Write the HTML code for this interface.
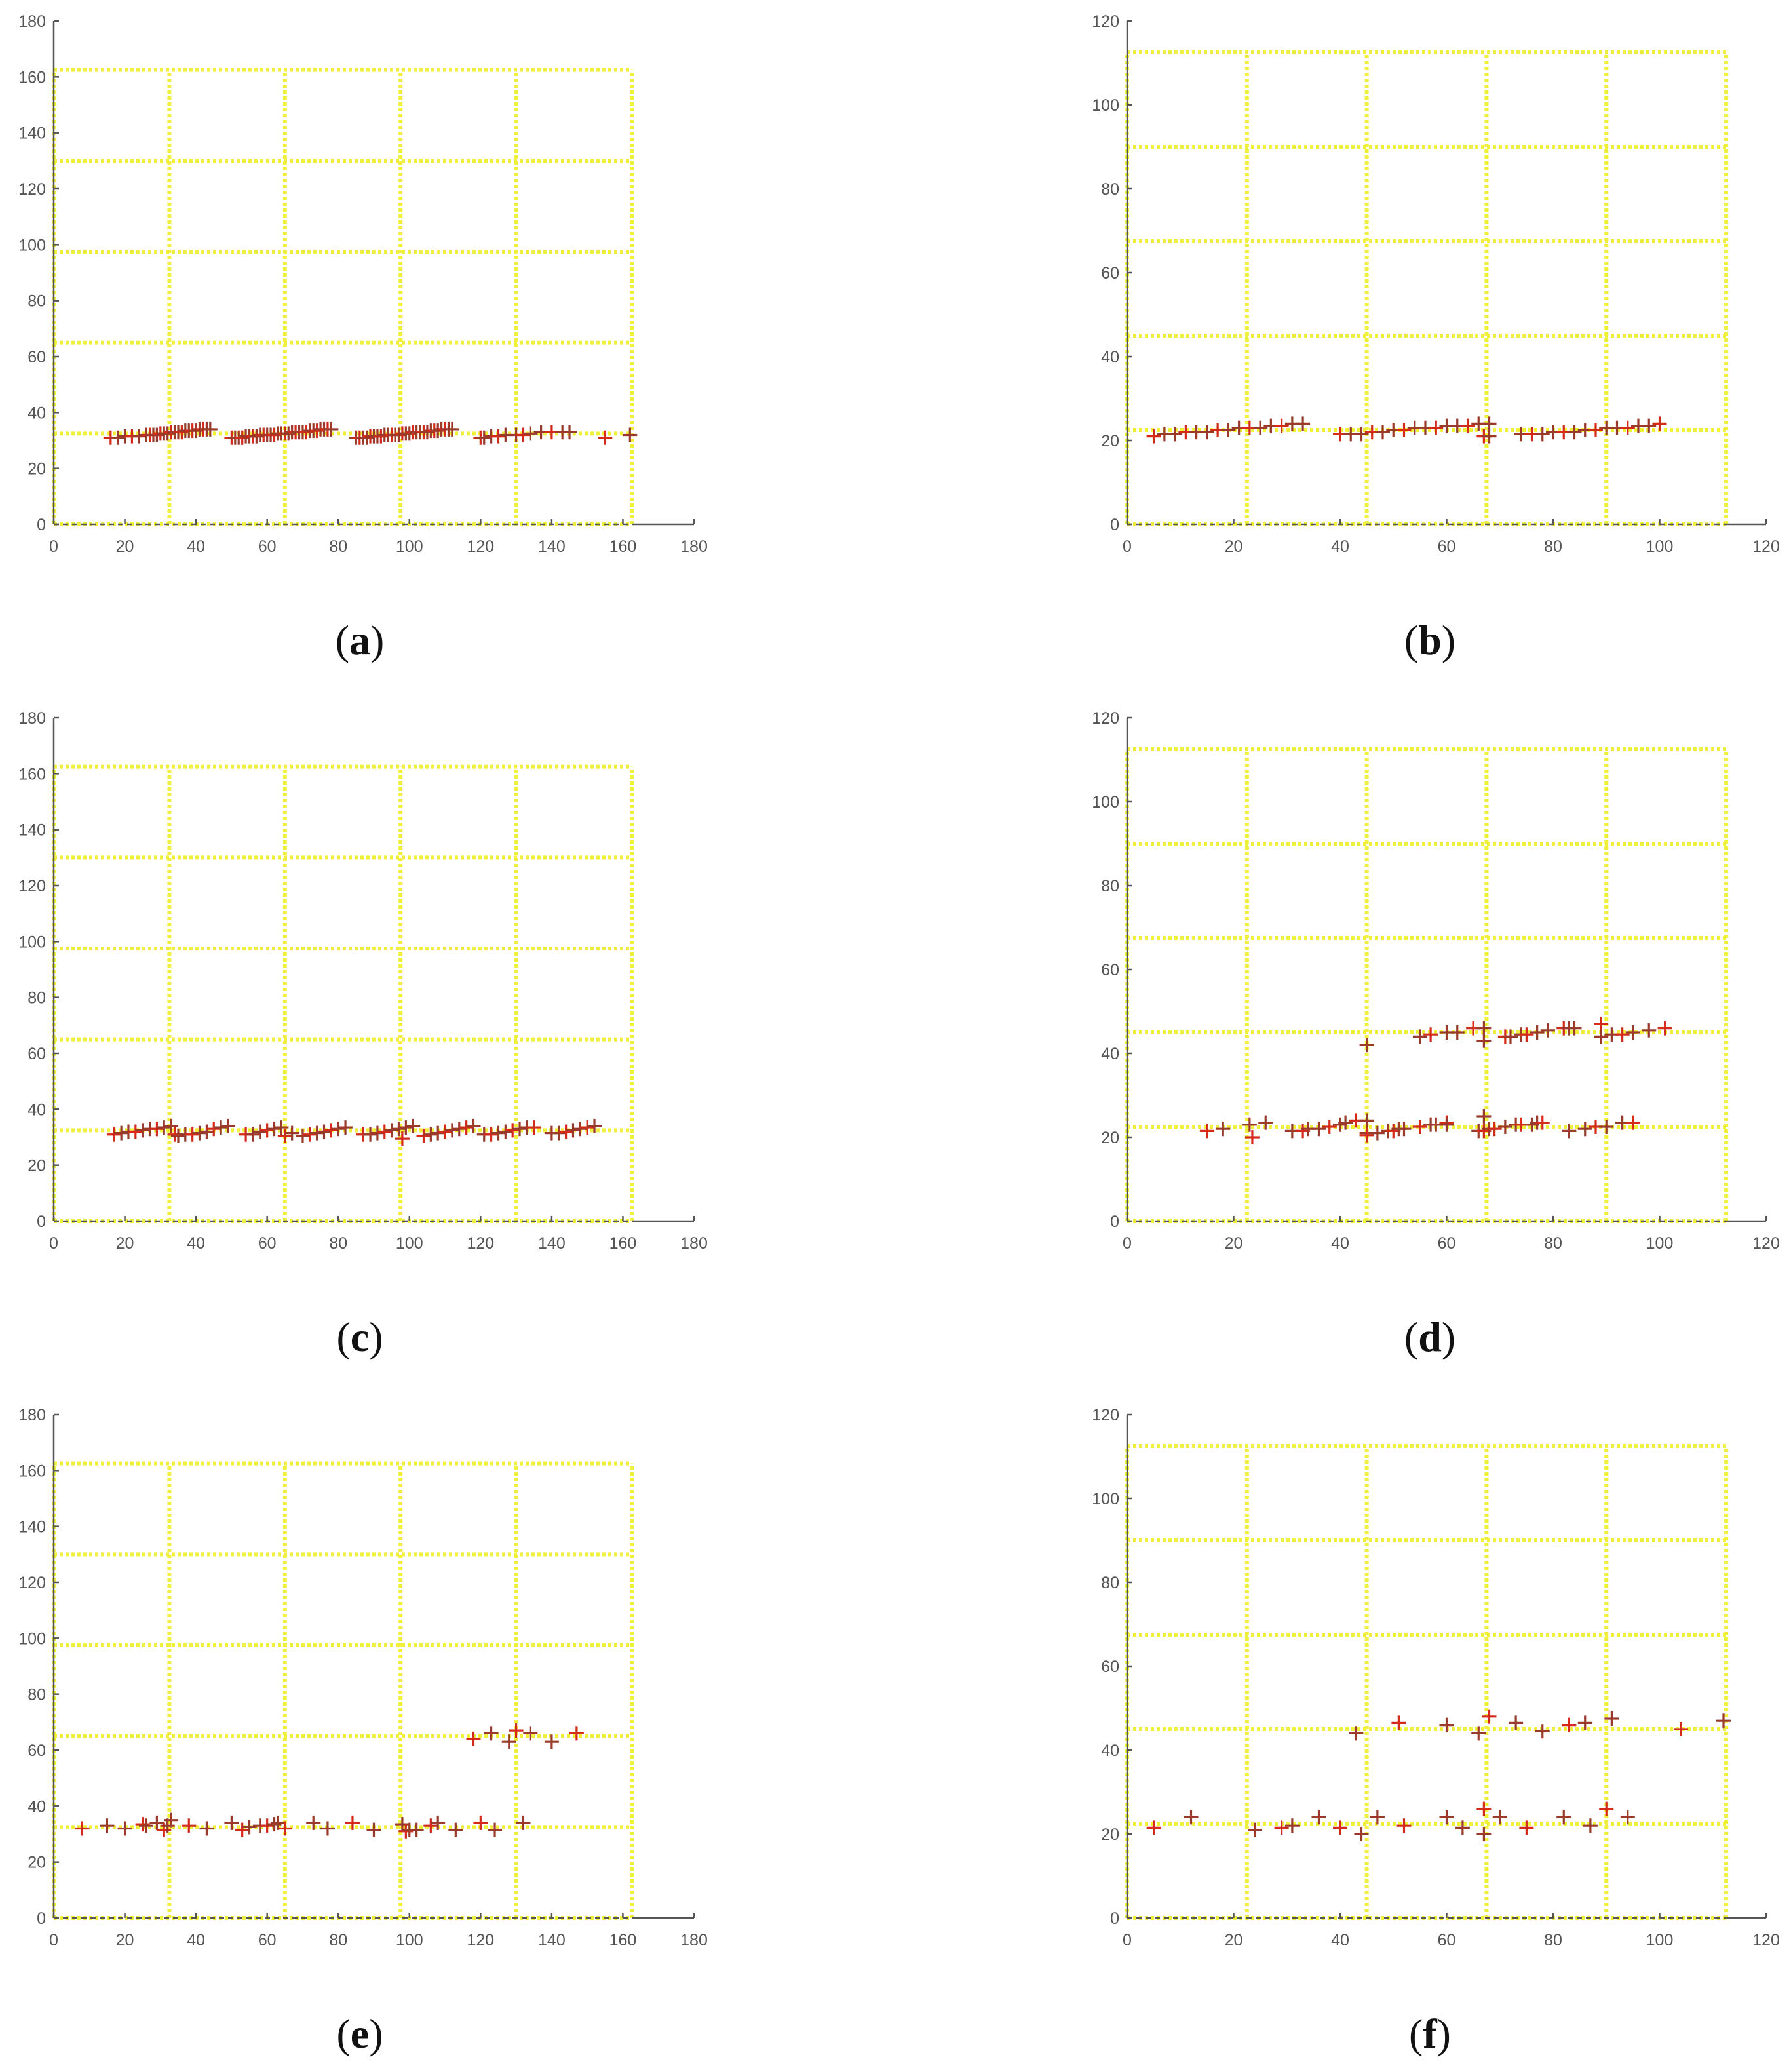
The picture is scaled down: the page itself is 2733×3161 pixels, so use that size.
<!DOCTYPE html>
<html><head><meta charset="utf-8"><style>
html,body{margin:0;padding:0;background:#fff;}
svg{display:block;}
.tk{font-family:"Liberation Sans",sans-serif;font-size:25px;fill:#555;}
.cap{font-family:"Liberation Serif",serif;font-size:64px;fill:#111;}
</style></head><body>
<svg id="fig" width="2733" height="3161" viewBox="0 0 2733 3161" xmlns="http://www.w3.org/2000/svg"></svg>
<script>
// Panel (a)
const aX=[16,18,20,22,24,26,27,28,29,30,31,32,33,34,35,36,37,38,39,40,41,42,43,44, 50,51,52,53,54,55,56,57,58,59,60,61,62,63,64,65,66,67,68,69,70,71,72,73,74,75,76,77,78, 85,86,87,88,89,90,91,92,93,94,95,96,97,98,99,100,101,102,103,104,105,106,107,108,109,110,111,112, 120,121,123,125,127,130,132,134,137,140,143,145,155,162];
const aY=[31,31,31.5,31.5,31.5,32,32,32,32,32.5,32.5,32.5,33,33,33,33,33.5,33.5,33.5,33.5,34,34,34,34, 31,31,31,31,31.5,31.5,31.5,31.5,32,32,32,32,32,32.5,32.5,32.5,32.5,33,33,33,33,33,33.5,33.5,33.5,34,34,34,34, 31,31,31,31,31.5,31.5,31.5,31.5,32,32,32,32,32,32.5,32.5,32.5,33,33,33,33,33,33.5,33.5,33.5,34,34,34,34, 31,31,31.5,31.5,32,32,32,32.5,33,33,33,33,31,32];
// Panel (b)
const bX=[5,7,9,11,13,15,17,19,21,23,25,27,29,31,33, 40,42,44,46,48,50,52,54,56,58,60,62,64,66,68,67,68, 74,76,78,80,82,84,86,88,90,92,94,96,98,100];
const bY=[21,21.5,21.5,22,22,22,22.5,22.5,23,23,23,23.5,23.5,24,24, 21.5,21.5,21.5,22,22,22.5,22.5,23,23,23,23.5,23.5,23.5,24,24,21,21, 21.5,21.5,21.5,22,22,22,22.5,22.5,23,23,23,23.5,23.5,24];
// Panel (c)
const cX=[17,19,21,23,25,27,29,31,33,34,35,37,39,41,43,45,47,49, 54,56,58,60,62,64,65,67, 70,72,74,76,78,80,82, 87,89,91,93,95,97,98,99,101, 104,106,108,110,112,114,116,118, 121,123,125,127,129,131,133,135, 140,142,144,146,148,150,152];
const cY=[31,31.5,32,32,32.5,33,33,33.5,34,31,30.5,31,31,31.5,32,33,33.5,34, 31,31,32,32.5,33,33.5,30.5,31.5, 30.5,31,31.5,32,32.5,33,33.5, 31,31,31.5,32,32.5,33,29.5,33.5,34, 30.5,31,31.5,32,32.5,33,33.5,34, 31,31,31.5,32,32.5,33,33.5,33.5, 31.5,31.5,32,32.5,33,33.5,34];
// Panel (d)
const dX=[15,18,23,23.5,26,31,33,34,36,38,40,41,43,45,45,45,47,49,50,51,52,55,57,58,60,60,66,67,67,68,69,71,73,74,76,77,78,83,86,88,90,93,95, 45,55,57,60,62,65,67,67,71,72,74,75,77,79,82,83,84,89,89,91,93,95,98,101];
const dY=[21.5,22,23,20,23.5,21.5,21.5,22,22,22.5,23,23.5,24,24,21,20.5,21,21.5,21.5,22,22,22.5,23,23,23.5,23,21.5,21.5,25,22,22,22.5,23,23,23,23.5,23.5,21.5,22,22.5,22.5,23.5,23.5, 42,44,44.5,45,45,46,46,43,44,44,44.5,44.5,45,45.5,46,46,46,47,44,44.5,44.5,45,45.5,46];
// Panel (e)
const eX=[8,15,20,25,26,29,31,32,33,38,43,50,53,55,58,60,62,63,65,73,77,84,90,98,99,100,102,106,108,113,120,124,132, 118,123,128,130,134,140,147];
const eY=[32,33,32,33.5,33,34,31.5,33,35,33,32,34,31.5,32.5,33,33,33.5,34,32,34,32,34,31.5,33.5,31,31.5,31.5,33,34,31.5,34,31.5,34, 64,66,63,67,66,63,66];
// Panel (f)
const fX=[5,12,24,29,31,36,40,44,47,52,60,63,67,67,70,75,82,87,90,94, 43,51,60,66,68,73,78,83,86,91,104,112];
const fY=[21.5,24,21,21.5,22,24,21.5,20,24,22,24,21.5,26,20,24,21.5,24,22,26,24, 44,46.5,46,44,48,46.5,44.5,46,46.5,47.5,45,47];

const ticks180=[0,20,40,60,80,100,120,140,160,180];
const ticks120=[0,20,40,60,80,100,120];
const grid180=[32.5,65,97.5,130,162.5];
const grid120=[22.5,45,67.5,90,112.5];

const NS='http://www.w3.org/2000/svg';
const fig=document.getElementById('fig');
function mk(tag,attrs,parent){const e=document.createElementNS(NS,tag);for(const k in attrs)e.setAttribute(k,attrs[k]);(parent||fig).appendChild(e);return e;}

const panels=[
 {id:'a',xs:aX,ys:aY,max:180,ticks:ticks180,grid:grid180,x0:82,x1:1059,y0:800,cx:549},
 {id:'b',xs:bX,ys:bY,max:120,ticks:ticks120,grid:grid120,x0:1720,x1:2695,y0:800,cx:2182},
 {id:'c',xs:cX,ys:cY,max:180,ticks:ticks180,grid:grid180,x0:82,x1:1059,y0:1863,cx:549},
 {id:'d',xs:dX,ys:dY,max:120,ticks:ticks120,grid:grid120,x0:1720,x1:2695,y0:1863,cx:2182},
 {id:'e',xs:eX,ys:eY,max:180,ticks:ticks180,grid:grid180,x0:82,x1:1059,y0:2926,cx:549},
 {id:'f',xs:fX,ys:fY,max:120,ticks:ticks120,grid:grid120,x0:1720,x1:2695,y0:2926,cx:2182}
];

panels.forEach(p=>{
  const H=768;
  const sx=v=>p.x0+(v/p.max)*(p.x1-p.x0);
  const sy=v=>p.y0-(v/p.max)*H;
  const g=mk('g',{});
  
  
  const gmax=p.grid[p.grid.length-1];
  const gg=mk('g',{stroke:'#f0f03c','stroke-width':6,'stroke-dasharray':'5 4'},g);
  
  
  [0].concat(p.grid).forEach(v=>{
    mk('line',{x1:sx(v),x2:sx(v),y1:sy(0),y2:sy(gmax)},gg);
    mk('line',{x1:sx(0),x2:sx(gmax),y1:sy(v),y2:sy(v)},gg);
  });
  const ax=mk('g',{stroke:'#555','stroke-width':2.5,fill:'none'},g);
  
  
  mk('line',{x1:sx(0),x2:sx(0),y1:sy(0),y2:sy(p.max)},ax);
  mk('line',{x1:sx(0),x2:sx(gmax),y1:sy(0),y2:sy(0),'stroke-dasharray':'8 6'},ax);
  mk('line',{x1:sx(gmax),x2:sx(p.max),y1:sy(0),y2:sy(0)},ax);
  p.ticks.forEach(v=>{
    mk('line',{x1:sx(v),x2:sx(v),y1:sy(0),y2:sy(0)-8},ax);
    mk('line',{x1:sx(0),x2:sx(0)+8,y1:sy(v),y2:sy(v)},ax);
    const tx=mk('text',{x:sx(v),y:sy(0)+42,'text-anchor':'middle',class:'tk'},g);
    tx.textContent=v;
    
    
    const ty=mk('text',{x:sx(0)-12,y:sy(v)+9,'text-anchor':'end',class:'tk'},g);
    ty.textContent=v;
    
    
  });
  const mg=mk('g',{'stroke-width':3.2,fill:'none'},g);
  
  
  p.xs.forEach((xv,i)=>{
    const x=sx(xv),y=sy(p.ys[i]);
    const m=mk('path',{d:`M${x-11} ${y}H${x+11}M${x} ${y-11}V${y+11}`,stroke:(i%3===0)?'#d42a1a':'#9a3a2a'},mg);
    
    
  });
  const c=mk('text',{x:p.cx,y:p.y0+198,'text-anchor':'middle',class:'cap'},g);
  
  
  c.innerHTML='(<tspan font-weight="bold">'+p.id+'</tspan>)';
});
</script>
</body></html>
